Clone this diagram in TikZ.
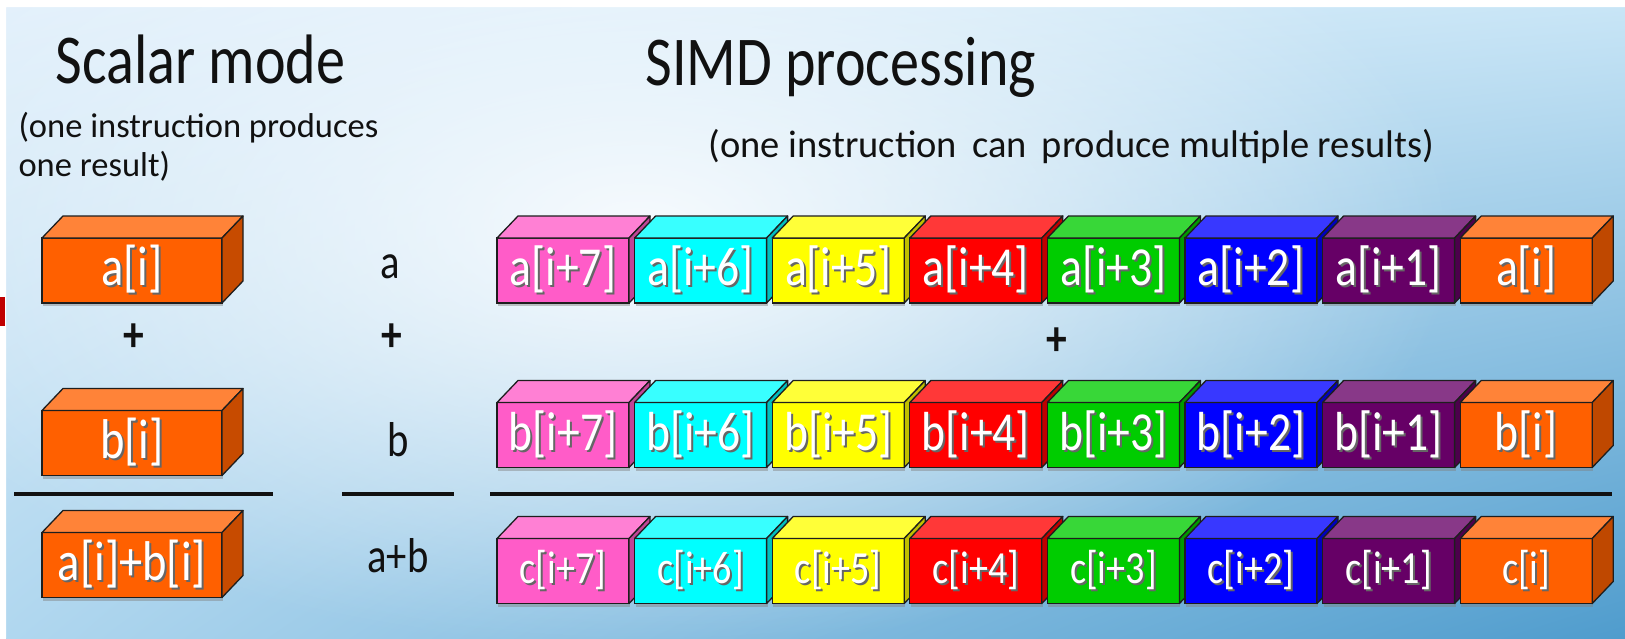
\documentclass[tikz,border=0pt]{standalone}
\usepackage{fontspec}
\setmainfont{Carlito}[FakeStretch=0.83]
\newfontfamily\notefont{Carlito}
\usepackage{tikz}
\usetikzlibrary{shadings,fadings,shadows}
\definecolor{edge}{HTML}{1E1E1E}
\definecolor{ink}{HTML}{111111}
\definecolor{pnk}{HTML}{FF5CC8}
\definecolor{cyn}{HTML}{00FFFF}
\definecolor{ylw}{HTML}{FFFF00}
\definecolor{rd}{HTML}{FF0000}
\definecolor{grn}{HTML}{00CC00}
\definecolor{blu}{HTML}{0000FF}
\definecolor{prp}{HTML}{660066}
\definecolor{org}{HTML}{FF6000}
\definecolor{redbar}{HTML}{C00000}
\definecolor{bgglow}{HTML}{F7FBFE}
\definecolor{bgul}{HTML}{E2F0FB}
\definecolor{bgur}{HTML}{C8E5F6}
\definecolor{bgll}{HTML}{B0D7EF}
\definecolor{bglr}{HTML}{4F9CCD}
\tikzfading[name=glow, inner color=transparent!0, outer color=transparent!100]
\newcommand{\shd}[1]{\makebox[0pt][l]{\kern2pt\raisebox{-2pt}{\color{black!60}#1}}#1}

\begin{document}
\begin{tikzpicture}[x=1pt, y=-1pt,
  cube/.style={draw=edge, line width=1.3pt, outer sep=0pt, inner sep=0pt, minimum width=132, minimum height=65, text=white,
    drop shadow={shadow xshift=1pt, shadow yshift=-3pt, opacity=.45}},
  face/.style={draw=edge, line width=1.3pt, line join=round},
  title/.style={anchor=base west, text=ink, font=\fontsize{70}{70}\selectfont},
  note/.style={anchor=base west, text=ink, font=\notefont\fontsize{34.5}{39}\selectfont},
  sym/.style={text=ink, font=\fontsize{49}{49}\selectfont},
  rule/.style={ink, line width=3.5pt}]
\useasboundingbox (0,0) rectangle (1625,638);
\fill[white] (0,0) rectangle (1625,638);
\shade[upper left=bgul, upper right=bgur, lower left=bgll, lower right=bglr] (6,7) rectangle (1625,638);
\fill[bgglow, path fading=glow] (640,230) ellipse (820 and 420);
\fill[white] (0,0) rectangle (1625,7) (0,0) rectangle (6,638);
\fill[redbar] (0,297) rectangle (5,326);

\node[title] (scalar) at (52,83) {Scalar mode};
\node[title] (simd) at (642,85) {SIMD processing};
\node[note] (scalarnote) at (15,137) {(one instruction produces};
\node[note] (scalarnote2) at (15,176) {one result)};
\node[note, font=\notefont\fontsize{38.5}{40}\selectfont] (simdnote) at (705,157) {(one instruction\, can\, produce multiple results)};

\foreach \nm/\y/\txt in {sa/270.5/a[i], sb/443/b[i], sc/565/{a[i]+b[i]}} {
  \node[cube, minimum width=180, fill=org, font=\fontsize{56}{56}\selectfont] (\nm) at (132,\y) {\shd{\txt}};
  \draw[face, fill=org!78!white] (\nm.north west) -- ++(21,-22) -- ([shift={(21,-22)}]\nm.north east) -- (\nm.north east) -- cycle;
  \draw[face, fill=org!78!black] (\nm.north east) -- ([shift={(21,-22)}]\nm.north east) -- ([shift={(21,-22)}]\nm.south east) -- (\nm.south east) -- cycle;
}

\foreach \row/\y/\fs in {a/270.5/55, b/435/55, c/571/46} {
  \foreach \col/\off [count=\k] in {pnk/+7, cyn/+6, ylw/+5, rd/+4, grn/+3, blu/+2, prp/+1, org/} {
    \node[cube, fill=\col, font=\fontsize{\fs}{\fs}\selectfont] (\row\k) at ({563+137.6*(\k-1)},\y) {\shd{\row[i\off]}};
    \draw[face, fill=\col!78!white] (\row\k.north west) -- ++(21,-22) -- ([shift={(21,-22)}]\row\k.north east) -- (\row\k.north east) -- cycle;
    \draw[face, fill=\col!75!black] (\row\k.north east) -- ([shift={(21,-22)}]\row\k.north east) -- ([shift={(21,-22)}]\row\k.south east) -- (\row\k.south east) -- cycle;
  }
}

\node[sym, anchor=base] (va) at (390,278) {a};
\node[sym, anchor=base] (vb) at (398,456) {b};
\node[sym, anchor=base] (vab) at (398,572) {a+b};
\node[sym, font=\fontsize{50}{50}\bfseries] (plus1) at (134,338) {+};
\node[sym, font=\fontsize{50}{50}\bfseries] (plus2) at (392,338) {+};
\node[sym, font=\fontsize{50}{50}\bfseries] (plus3) at (1057,342) {+};

\draw[rule] (14,494) -- (273,494);
\draw[rule] (342,494) -- (454,494);
\draw[rule] (490,494) -- (1612,494);
\end{tikzpicture}
\end{document}
